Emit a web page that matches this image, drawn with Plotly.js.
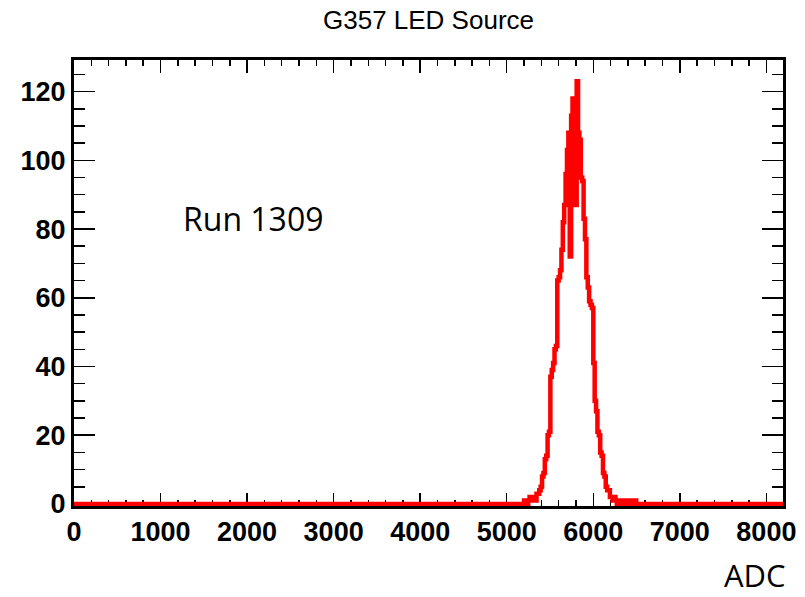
<!DOCTYPE html>
<html>
<head>
<meta charset="utf-8">
<script src="https://cdn.plot.ly/plotly-3.0.1.min.js"></script>
<style>html,body{margin:0;padding:0;background:#fff;}#chart{width:805px;height:597px;}</style>
</head>
<body>
<div id="chart"></div>
<script>
// Histogram: 16-ADC bins over 0..8192; only the non-empty region is listed, other bins are 0
const binWidth = 16;
const adcMin = 0;
const adcMax = 8192;
const firstBinStart = 5184;
const counts = [
  0, 1, 1, 0, 1, 2, 1, 1, 2, 1,          // 5184 - 5328
  3, 3, 4, 5, 8, 9, 13, 14, 20, 21,      // 5344 - 5488
  37, 39, 41, 45, 46, 65, 66, 68, 74, 82, // 5504 - 5648
  87, 96, 103, 108, 72, 113, 118, 116, 87, 123, // 5664 - 5808
  108, 106, 95, 94, 83, 77, 66, 63, 59, 58,     // 5824 - 5968
  57, 41, 30, 27, 21, 20, 15, 14, 9, 8,         // 5984 - 6128
  5, 4, 4, 2, 2, 1, 2, 1, 0, 1,                 // 6144 - 6288
  1, 0, 1, 0, 1, 0, 1, 0, 1, 0, 0, 1, 0         // 6304 - 6496
];
const xTickVals = [0, 1000, 2000, 3000, 4000, 5000, 6000, 7000, 8000];
const yTickVals = [0, 20, 40, 60, 80, 100, 120];
const chartTitle = "G357 LED Source";
const xLabel = "ADC";
const runLabel = "Run 1309";

// Build step outline (bin edges) from the arrays
const xs = [adcMin];
const ys = [0];
for (let i = 0; i < counts.length; i++) {
  xs.push(firstBinStart + i * binWidth);
  ys.push(counts[i]);
}
xs.push(firstBinStart + counts.length * binWidth);
ys.push(0);
xs.push(adcMax);
ys.push(0);

const trace = {
  type: 'scatter', mode: 'lines',
  x: xs, y: ys,
  line: {shape: 'hv', color: '#ff0000', width: 4.5},
  hoverinfo: 'skip'
};

const tickFont = {family: 'Liberation Sans, Arial, sans-serif', size: 27, color: '#000', weight: 'bold'};

const layout = {
  width: 805, height: 597,
  margin: {l: 74, r: 22, t: 60, b: 91},
  paper_bgcolor: '#fff', plot_bgcolor: '#fff',
  showlegend: false,
  title: {text: chartTitle, font: {family: 'Liberation Sans, Arial, sans-serif', size: 26, color: '#000'},
          x: 0.5, xref: 'paper', y: 1 - 20/597, yref: 'container', yanchor: 'middle', xanchor: 'center'},
  xaxis: {
    range: [adcMin, adcMax], tickvals: xTickVals, ticktext: xTickVals.map(String),
    showgrid: false, zeroline: false, showline: true, linecolor: '#000', linewidth: 3,
    mirror: 'allticks', ticks: 'inside', ticklen: 13, tickwidth: 1.5, tickcolor: '#000',
    minor: {dtick: 200, tick0: 0, ticks: 'inside', ticklen: 6, tickwidth: 1.5, tickcolor: '#000', showgrid: false},
    tickfont: tickFont, layer: 'below traces'
  },
  yaxis: {
    range: [-0.6, 129.2], tickvals: yTickVals, ticktext: yTickVals.map(String),
    showgrid: false, zeroline: false, showline: true, linecolor: '#000', linewidth: 3,
    mirror: 'allticks', ticks: 'inside', ticklen: 21, tickwidth: 1.5, tickcolor: '#000',
    minor: {dtick: 5, tick0: 0, ticks: 'inside', ticklen: 11, tickwidth: 1.5, tickcolor: '#000', showgrid: false},
    tickfont: tickFont, layer: 'below traces'
  },
  annotations: [
    {text: runLabel, xref: 'x', yref: 'y', x: 1233, y: 83, xanchor: 'left', yanchor: 'middle',
     showarrow: false, font: {family: 'Open Sans, sans-serif', size: 32, color: '#000'}},
    {text: xLabel, xref: 'paper', yref: 'paper', x: 1.007, y: -0.155, xanchor: 'right', yanchor: 'middle',
     showarrow: false, font: {family: 'Open Sans, sans-serif', size: 31, color: '#000'}}
  ]
};

Plotly.newPlot('chart', [trace], layout, {displayModeBar: false, staticPlot: true});
</script>
</body>
</html>
